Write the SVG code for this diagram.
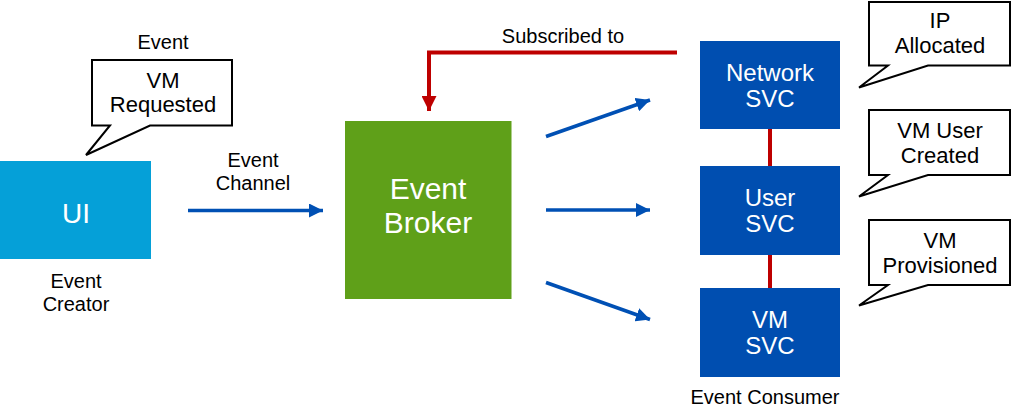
<svg xmlns="http://www.w3.org/2000/svg" width="1012" height="412" viewBox="0 0 1012 412">
<style>
text{font-family:"Liberation Sans",Arial,sans-serif;text-anchor:middle}
.lbl{font-size:20px;fill:#000}
.co{font-size:22px;fill:#000}
.wt{fill:#fff}
.callout{fill:#fff;stroke:#000;stroke-width:2;stroke-linejoin:miter}
.blue{stroke:#0050B4;stroke-width:3.5;fill:none}
.red{stroke:#BE0000;stroke-width:4;fill:none}
.svc{fill:#004EB0}
</style>
<defs>
<marker id="ab" viewBox="0 0 10 10" refX="10" refY="5" markerWidth="14" markerHeight="14" markerUnits="userSpaceOnUse" orient="auto">
<path d="M0,0 L10,5 L0,10 Z" fill="#0050B4"/>
</marker>
<marker id="ar" viewBox="0 0 10 10" refX="10" refY="5" markerWidth="15" markerHeight="15" markerUnits="userSpaceOnUse" orient="auto">
<path d="M0,0 L10,5 L0,10 Z" fill="#BE0000"/>
</marker>
</defs>
<g id="connectors">
<line class="blue" x1="188" y1="210.5" x2="323" y2="210.5" marker-end="url(#ab)"/>
<line class="blue" x1="546" y1="136.5" x2="650" y2="100" marker-end="url(#ab)"/>
<line class="blue" x1="546" y1="210" x2="650" y2="210" marker-end="url(#ab)"/>
<line class="blue" x1="546" y1="282.5" x2="650" y2="319.5" marker-end="url(#ab)"/>
<path class="red" d="M677,52.5 H429 V111" marker-end="url(#ar)"/>
<line class="red" x1="770" y1="129" x2="770" y2="166"/>
<line class="red" x1="770" y1="255" x2="770" y2="288"/>
<text class="lbl" x="563" y="43">Subscribed to</text>
<text class="lbl" x="253" y="167">Event</text>
<text class="lbl" x="253" y="190">Channel</text>
</g>
<g id="ui">
<rect x="0" y="161" width="151" height="98" fill="#05A0D8"/>
<text class="wt" x="76" y="223" font-size="28">UI</text>
<text class="lbl" x="76" y="288">Event</text>
<text class="lbl" x="76" y="311">Creator</text>
</g>
<g id="event-callout">
<text class="lbl" x="163" y="49">Event</text>
<path class="callout" d="M92,60 H232 V125.5 H150 L86,155 L110,125.5 H92 Z"/>
<text class="co" x="163" y="88">VM</text>
<text class="co" x="163" y="112">Requested</text>
</g>
<g id="broker">
<rect x="345" y="121" width="166.5" height="178" fill="#5FA019"/>
<text class="wt" x="428" y="199" font-size="30">Event</text>
<text class="wt" x="428" y="233" font-size="30">Broker</text>
</g>
<g id="network-svc">
<rect class="svc" x="700" y="41" width="140" height="88"/>
<text class="wt" x="770" y="81" font-size="24">Network</text>
<text class="wt" x="770" y="107" font-size="24">SVC</text>
</g>
<g id="user-svc">
<rect class="svc" x="700" y="166" width="140" height="89"/>
<text class="wt" x="770" y="206" font-size="24">User</text>
<text class="wt" x="770" y="232" font-size="24">SVC</text>
</g>
<g id="vm-svc">
<rect class="svc" x="700" y="288" width="140" height="89"/>
<text class="wt" x="770" y="328" font-size="24">VM</text>
<text class="wt" x="770" y="354" font-size="24">SVC</text>
</g>
<text class="lbl" x="765" y="404">Event Consumer</text>
<g id="ip-callout">
<path class="callout" d="M869,2 H1010 V65.5 H928 L859,87.5 L888,65.5 H869 Z"/>
<text class="co" x="940" y="28">IP</text>
<text class="co" x="940" y="53">Allocated</text>
</g>
<g id="user-callout">
<path class="callout" d="M869,110 H1010 V175 H928 L859,196.5 L888,175 H869 Z"/>
<text class="co" x="940" y="138">VM User</text>
<text class="co" x="940" y="163">Created</text>
</g>
<g id="vm-callout">
<path class="callout" d="M869,220 H1010 V285 H928 L859,305.5 L888,285 H869 Z"/>
<text class="co" x="940" y="248">VM</text>
<text class="co" x="940" y="273">Provisioned</text>
</g>
</svg>
